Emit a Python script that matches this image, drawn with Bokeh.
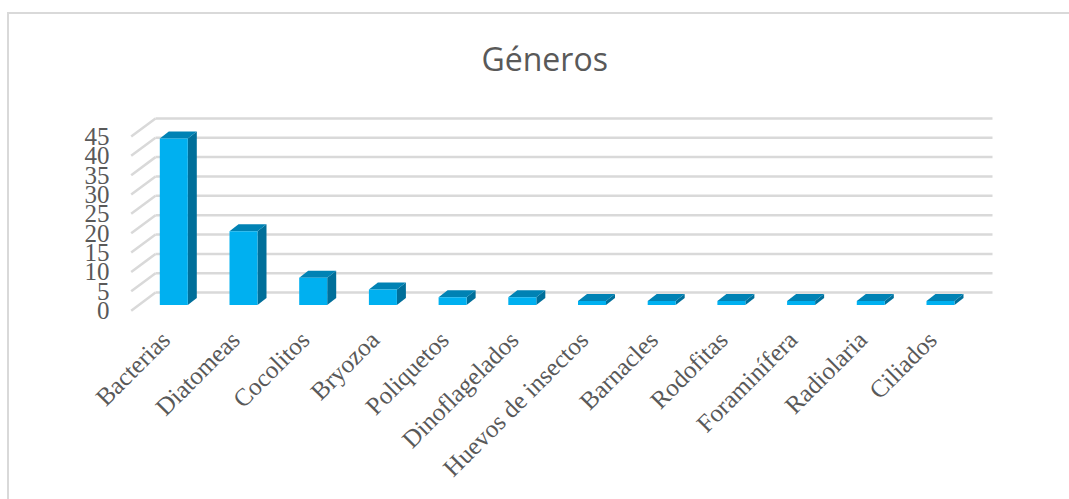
from bokeh.plotting import figure
from bokeh.embed import file_html
from bokeh.resources import INLINE
from bokeh.models import FactorRange, Range1d, FixedTicker, Title
from math import pi

categories = ["Bacterias", "Diatomeas", "Cocolitos", "Bryozoa", "Poliquetos", "Dinoflagelados",
              "Huevos de insectos", "Barnacles", "Rodofitas", "Foraminífera", "Radiolaria", "Ciliados"]
values = [43, 19, 7, 4, 2, 2, 1, 1, 1, 1, 1, 1]
y_ticks = list(range(0, 50, 5))

GRID = "#d9d9d9"
FRONT, SIDE, TOP = "#00b0f0", "#006f9a", "#0082b4"
TEXT = "#595959"
PX_X = 69.7   # pixels per category
PX_Y = 3.866  # pixels per value unit
FRAME_L, FRAME_R = 102, 995
label_pad = ((FRAME_R - FRAME_L) / PX_X - 12) / 2
first_label_px = FRAME_L + (label_pad + 0.5) * PX_X
def xpos(px):
    return 0.5 + (px - first_label_px) / PX_X
bar_w = 28 / PX_X
dep_x, dep_y = 9 / PX_X, 7 / PX_Y
lift = 5.7 / PX_Y
wall_dx, wall_dy = 24.3 / PX_X, 18 / PX_Y
wall_x0 = xpos(130.7)
grid_x1 = xpos(992)
first_bar = xpos(173.3)

border = ("linear-gradient(#d9d9d9,#d9d9d9) 7px 12px/1062px 2px no-repeat,"
          "linear-gradient(#d9d9d9,#d9d9d9) 7px 12px/2px 487px no-repeat")

p = figure(width=1069, height=499, output_backend="svg", toolbar_location=None,
           x_range=FactorRange(factors=categories, range_padding=label_pad, range_padding_units="absolute"),
           y_range=Range1d(-1.0, 51.7),
           min_border_left=FRAME_L, min_border_right=1069 - FRAME_R, min_border_top=110, min_border_bottom=185,
           border_fill_alpha=0, background_fill_alpha=0, styles={"background": border})
p.outline_line_color = None
p.xgrid.visible = False
p.ygrid.visible = False

# gridlines on the back wall and their diagonals on the side wall
back_x = wall_x0 + wall_dx
p.segment(x0=[back_x] * len(y_ticks), x1=[grid_x1] * len(y_ticks),
          y0=[v + wall_dy for v in y_ticks], y1=[v + wall_dy for v in y_ticks],
          line_color=GRID, line_width=2.5)
p.segment(x0=[wall_x0] * len(y_ticks), x1=[back_x] * len(y_ticks),
          y0=y_ticks, y1=[v + wall_dy for v in y_ticks], line_color=GRID, line_width=2.5)

# 3D bars
for i, v in enumerate(values):
    c = first_bar + i
    l, r = c - bar_w / 2, c + bar_w / 2
    b, t = lift, v + lift
    p.patch([r, r + dep_x, r + dep_x, r], [b, b + dep_y, t + dep_y, t], fill_color=SIDE, line_color=None)
    p.patch([l, r, r + dep_x, l + dep_x], [t, t, t + dep_y, t + dep_y], fill_color=TOP, line_color=None)
    p.quad(left=[l], right=[r], bottom=[b], top=[t], fill_color=FRONT, line_color=None)

ya = p.yaxis[0]
ya.ticker = FixedTicker(ticks=y_ticks)
ya.axis_line_color = None
ya.major_tick_line_color = None
ya.minor_tick_line_color = None
ya.major_label_text_font = "Liberation Serif"
ya.major_label_text_font_size = "25px"
ya.major_label_text_color = TEXT
ya.major_label_standoff = -13

xa = p.xaxis[0]
xa.axis_line_color = None
xa.major_tick_line_color = None
xa.minor_tick_line_color = None
xa.major_label_orientation = pi / 4
xa.major_label_text_font = "Liberation Serif"
xa.major_label_text_font_size = "25px"
xa.major_label_text_color = TEXT
xa.major_label_standoff = 15

p.title = Title(text="Géneros", align="left", offset=379, text_font="Open Sans",
                text_font_size="32px", text_font_style="normal", text_color=TEXT, standoff=62)

open("out.html", "w").write(file_html(p, INLINE))
